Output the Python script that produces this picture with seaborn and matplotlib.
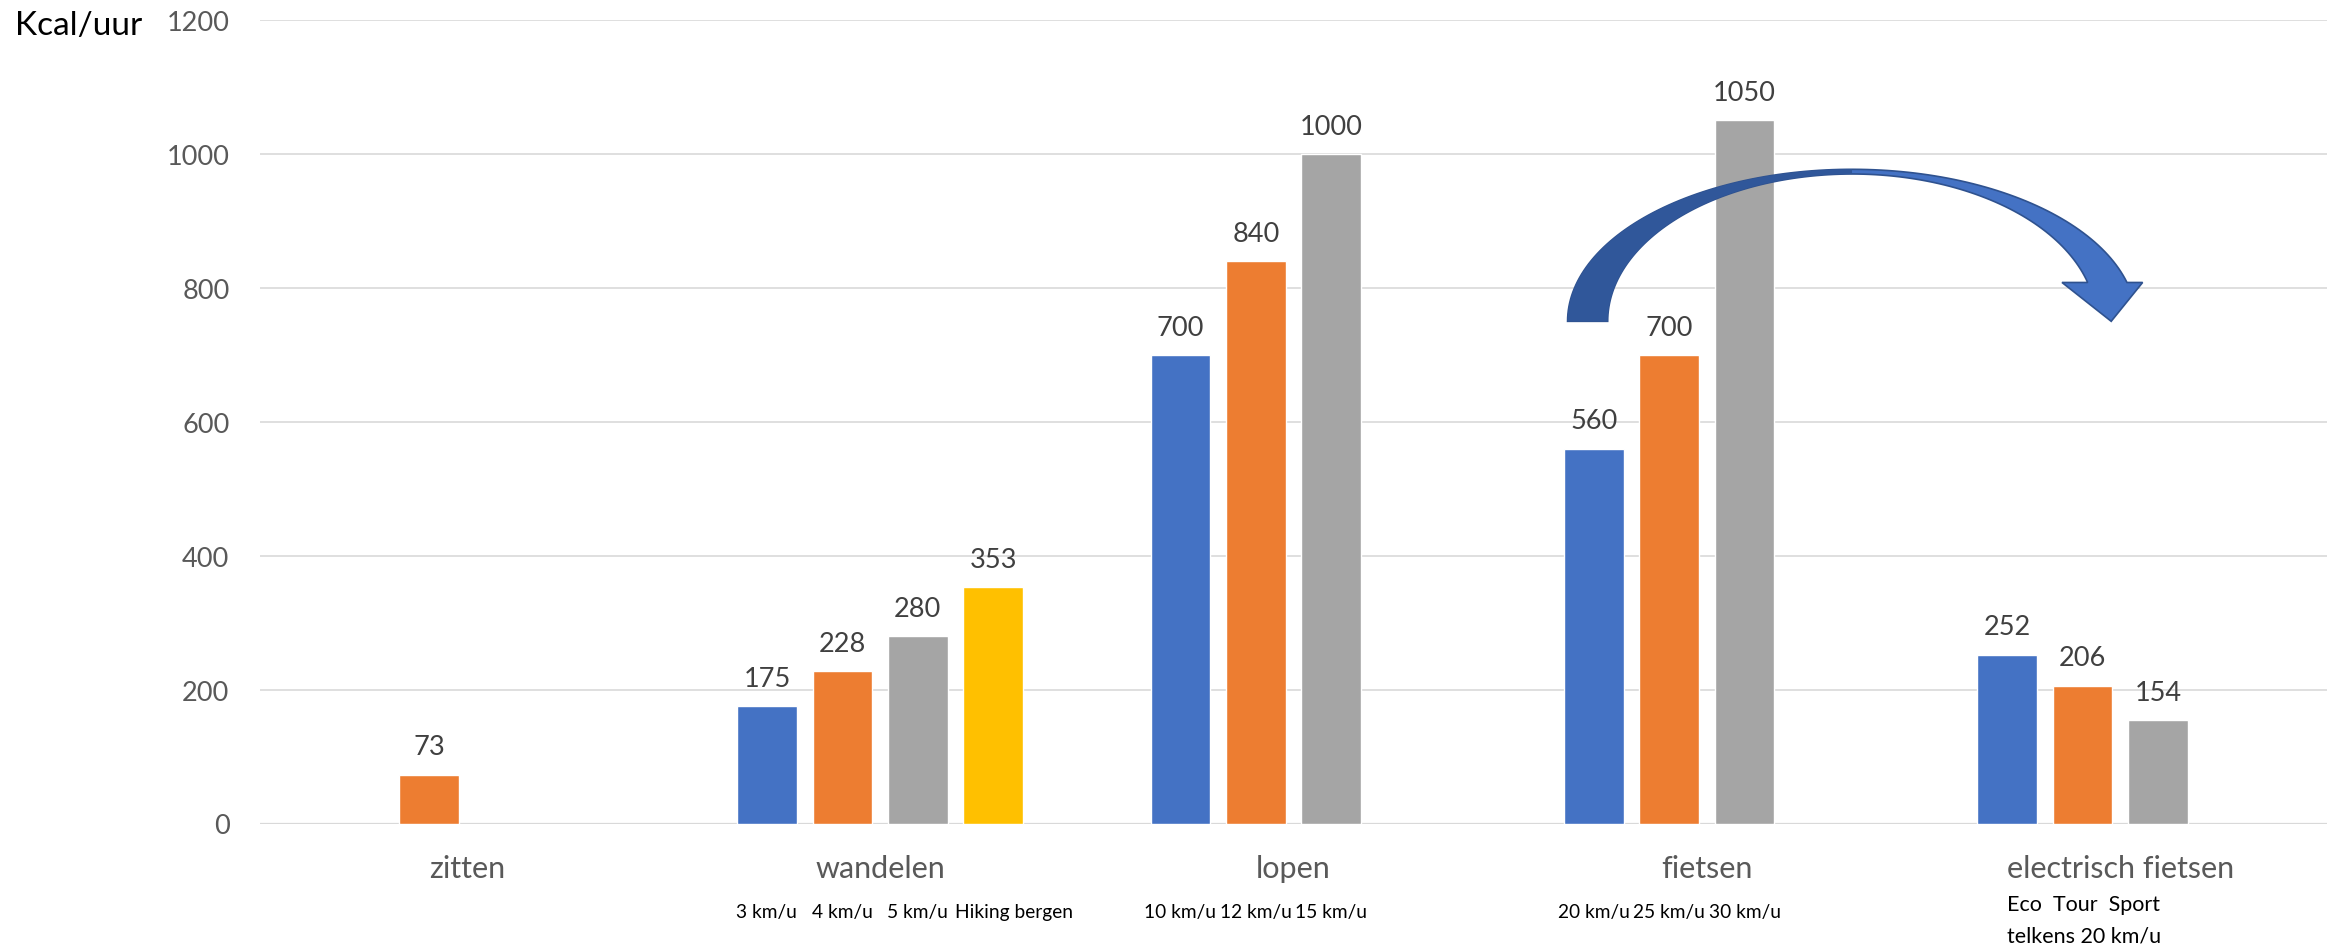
import numpy as np
import pandas as pd
import matplotlib
matplotlib.use("Agg")
import matplotlib.pyplot as plt
from matplotlib.patches import Polygon
import seaborn as sns

# ---------------- data ----------------
categories = ["zitten", "wandelen", "lopen", "fietsen", "electrisch fietsen"]
series = ["snelheid 1", "snelheid 2", "snelheid 3", "snelheid 4"]
s1_values = [np.nan, 175, 700, 560, 252]
s2_values = [73, 228, 840, 700, 206]
s3_values = [np.nan, 280, 1000, 1050, 154]
s4_values = [np.nan, 353, np.nan, np.nan, np.nan]
colors = ["#4472C4", "#ED7D31", "#A5A5A5", "#FFC000"]
yticks = [0, 200, 400, 600, 800, 1000, 1200]
y_label = "Kcal/uur"

sub_wandelen = ["3 km/u", "4 km/u", "5 km/u", "Hiking bergen"]
sub_lopen = ["10 km/u", "12 km/u", "15 km/u"]
sub_fietsen = ["20 km/u", "25 km/u", "30 km/u"]
sub_electrisch = ["Eco  Tour  Sport", "telkens 20 km/u"]

rows = []
for s, vals in zip(series, [s1_values, s2_values, s3_values, s4_values]):
    for c, v in zip(categories, vals):
        if not np.isnan(v):
            rows.append({"activiteit": c, "kcal": v, "reeks": s})
df = pd.DataFrame(rows)

# ---------------- figure ----------------
sns.set_theme(style="white")
plt.rcParams["font.family"] = ["Lato", "DejaVu Sans"]

fig = plt.figure(figsize=(23.38, 9.45), dpi=100)
left_px, right_px = 260, 2327
ax = fig.add_axes([left_px / 2338, 1 - 824.5 / 945, (right_px - left_px) / 2338,
                   (824.5 - 21) / 945])

sns.barplot(data=df, x="activiteit", y="kcal", hue="reeks", order=categories,
            hue_order=series, palette=colors, width=0.73, gap=0.21,
            legend=False, ax=ax, saturation=1, zorder=3)

ax.set_xlim(-0.5, len(categories) - 0.5)
ax.set_ylim(0, 1200)
ax.set_yticks(yticks)
ax.set_xlabel("")
ax.set_ylabel("")
ax.grid(axis="y", color="#D9D9D9", linewidth=1.2, zorder=0)
ax.grid(axis="x", visible=False)
for sp in ax.spines.values():
    sp.set_visible(False)
ax.axhline(0, color="#D9D9D9", linewidth=1.6, zorder=2)
ax.tick_params(axis="y", length=0, pad=22, labelsize=19.5, labelcolor="#595959")
ax.tick_params(axis="x", length=0, pad=22, labelsize=22, labelcolor="#595959")

for cont in ax.containers:
    ax.bar_label(cont, fmt="%g", padding=11, fontsize=19.5, color="#404040")

# sub labels under the bars
fig_y = 1 - 913 / 945
sub_fs = 13.8
trans = matplotlib.transforms.blended_transform_factory(ax.transData, fig.transFigure)
bars_by_cat = {i: [] for i in range(len(categories))}
for cont in ax.containers:
    for b in cont:
        cx = b.get_x() + b.get_width() / 2
        bars_by_cat[int(round(cx))].append(b)
for i in bars_by_cat:
    bars_by_cat[i].sort(key=lambda b: b.get_x())

for idx, labels in [(1, sub_wandelen), (2, sub_lopen), (3, sub_fietsen)]:
    bars = bars_by_cat[idx]
    for j, (b, lab) in enumerate(zip(bars, labels)):
        if len(lab) > 8:
            ax.text(b.get_x() - 0.02, fig_y, lab, transform=trans, ha="left",
                    va="center", fontsize=sub_fs, color="black")
        else:
            ax.text(b.get_x() + b.get_width() / 2, fig_y, lab, transform=trans,
                    ha="center", va="center", fontsize=sub_fs, color="black")

b0 = bars_by_cat[4][0]
x_el = b0.get_x() + b0.get_width() / 2
ax.text(x_el, 1 - 905 / 945, sub_electrisch[0], transform=trans, ha="left",
        va="center", fontsize=15.5, color="black")
ax.text(x_el, 1 - 937 / 945, sub_electrisch[1], transform=trans, ha="left",
        va="center", fontsize=15.5, color="black")

fig.text(15 / 2338, 1 - 26 / 945, y_label, ha="left", va="center",
         fontsize=24, color="black")

# ---------------- curved arrow (annotation shape) ----------------
cx_a, cy_a = 3.351, 750.0
a_out, b_out = 0.688, 227.0
a_in, b_in = 0.591, 220.0
y_cut = 808.0
th_out = np.arcsin((y_cut - cy_a) / b_out)
th_in = np.arcsin((y_cut - cy_a) / b_in)

def arc(a, b, t0, t1, n=120):
    t = np.linspace(t0, t1, n)
    return np.column_stack([cx_a + a * np.cos(t), cy_a + b * np.sin(t)])

outer = arc(a_out, b_out, np.pi, th_out)
inner = arc(a_in, b_in, th_in, np.pi)
head = np.array([[4.054, y_cut], [3.978, 750.0], [3.859, y_cut]])
pts = np.vstack([outer, head, inner])
ax.add_patch(Polygon(pts, closed=True, facecolor="#4472C4", edgecolor="#2F528F",
                     linewidth=1.2, zorder=5))
# darker left half
outer_l = arc(a_out, b_out, np.pi, np.pi / 2)
inner_l = arc(a_in, b_in, np.pi / 2, np.pi)
ax.add_patch(Polygon(np.vstack([outer_l, inner_l]), closed=True,
                     facecolor="#30579A", edgecolor="none", zorder=5.5))

fig.savefig("out.png", dpi=100)
